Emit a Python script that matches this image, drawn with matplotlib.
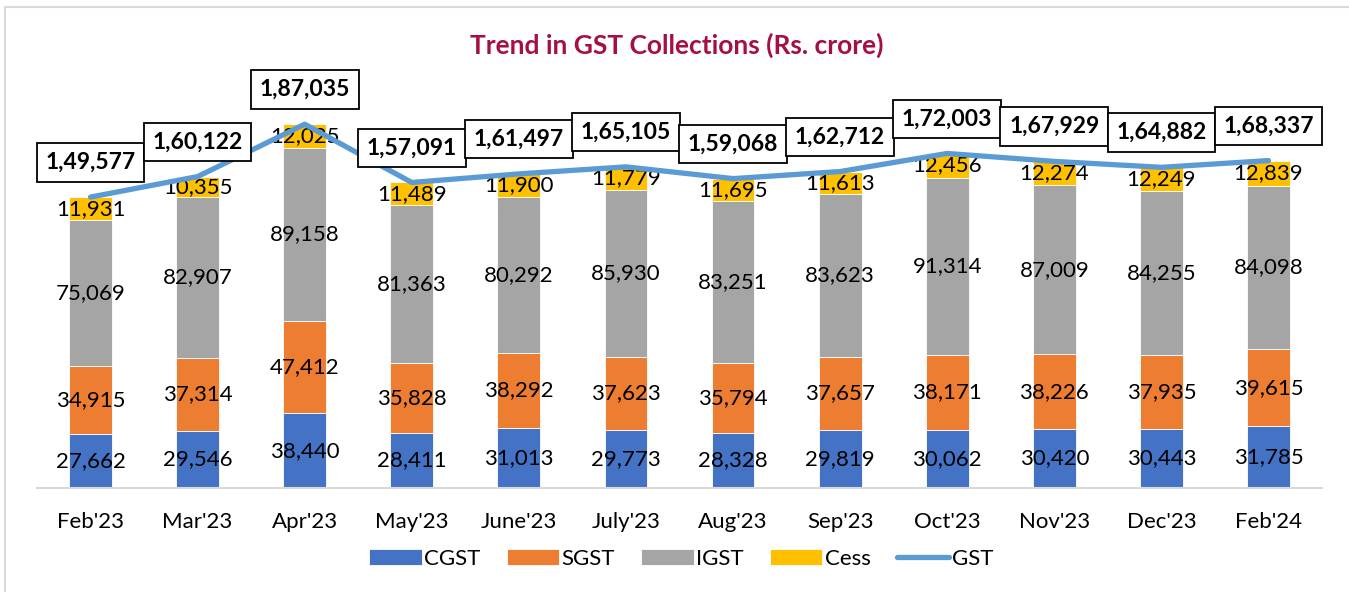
import matplotlib.pyplot as plt
import numpy as np
from matplotlib.patches import Rectangle

plt.rcParams['font.family'] = ['Lato', 'DejaVu Sans']

# data (Rs. crore)
months = ["Feb'23", "Mar'23", "Apr'23", "May'23", "June'23", "July'23",
          "Aug'23", "Sep'23", "Oct'23", "Nov'23", "Dec'23", "Feb'24"]
cgst = [27662, 29546, 38440, 28411, 31013, 29773, 28328, 29819, 30062, 30420, 30443, 31785]
sgst = [34915, 37314, 47412, 35828, 38292, 37623, 35794, 37657, 38171, 38226, 37935, 39615]
igst = [75069, 82907, 89158, 81363, 80292, 85930, 83251, 83623, 91314, 87009, 84255, 84098]
cess = [11931, 10355, 12025, 11489, 11900, 11779, 11695, 11613, 12456, 12274, 12249, 12839]
gst = [149577, 160122, 187035, 157091, 161497, 165105, 159068, 162712, 172003, 167929, 164882, 168337]


# indian style grouping 1,49,577
def inr(v):
    s = str(int(v))
    if len(s) <= 3:
        return s
    head, tail = s[:-3], s[-3:]
    parts = []
    while len(head) > 2:
        parts.insert(0, head[-2:])
        head = head[:-2]
    if head:
        parts.insert(0, head)
    return ",".join(parts) + "," + tail


fig = plt.figure(figsize=(13.49, 5.92), dpi=100)
ax = fig.add_axes([37 / 1349, 1 - 488 / 592, 1285 / 1349, 389 / 592])

# light frame around the chart area
fig.patches.append(Rectangle((5 / 1349, -0.01), 1.0, 1 - 7 / 592 + 0.01,
                             transform=fig.transFigure, fill=False,
                             edgecolor='#D9D9D9', linewidth=1.5))

x = np.arange(len(months))
w = 0.4
series = [("CGST", cgst, '#4472C4'), ("SGST", sgst, '#ED7D31'),
          ("IGST", igst, '#A5A5A5'), ("Cess", cess, '#FFC000')]
bottom = np.zeros(len(months))
handles = []
for name, vals, col in series:
    vals = np.array(vals, dtype=float)
    h = ax.bar(x, vals, w, bottom=bottom, color=col, label=name,
               edgecolor='white', linewidth=0.6)
    handles.append(h)
    for xi, b, v in zip(x, bottom, vals):
        ax.text(xi, b + v / 2, inr(v), ha='center', va='center',
                fontsize=16, color='black')
    bottom += vals

ln, = ax.plot(x, gst, color='#5B9BD5', linewidth=3.8, label='GST',
              solid_capstyle='round', zorder=3)
handles.append(ln)
for xi, v in zip(x, gst):
    ax.annotate(inr(v), (xi, v), xytext=(0, 25), textcoords='offset points',
                ha='center', va='center', fontsize=16.5, fontweight='bold',
                bbox=dict(boxstyle='square,pad=0.38', fc='white', ec='black', lw=1.3))

ax.set_xlim(-0.5, len(months) - 0.5)
ax.set_ylim(0, 200000)
ax.set_xticks(x)
ax.set_xticklabels(months, fontsize=16)
ax.tick_params(axis='x', length=0, pad=17)
ax.set_yticks([])
for s in ['top', 'right', 'left']:
    ax.spines[s].set_visible(False)
ax.spines['bottom'].set_color('#D9D9D9')
ax.spines['bottom'].set_linewidth(1.5)

fig.text(0.502, 1 - 45 / 592, 'Trend in GST Collections (Rs. crore)',
         ha='center', va='center', fontsize=19, fontweight='bold', color='#A50F46')

fig.legend(handles=handles, labels=['CGST', 'SGST', 'IGST', 'Cess', 'GST'],
           loc='center', bbox_to_anchor=(0.505, 1 - 559 / 592), ncol=5,
           frameon=False, fontsize=16, handlelength=2.35, handleheight=0.75,
           columnspacing=1.2, handletextpad=0.1)

fig.savefig('out.png', dpi=100)
